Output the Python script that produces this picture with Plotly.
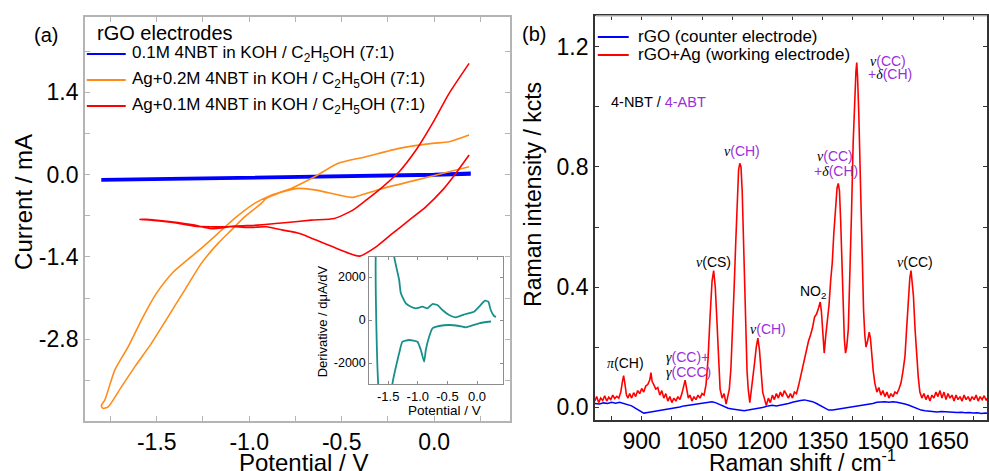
import plotly.graph_objects as go

W, H = 989, 471
FONT = "Liberation Sans, Arial, sans-serif"
SERIF = "Liberation Serif, Times New Roman, serif"
PURPLE = "#9b30d8"

# ---------------- Panel (a): cyclic voltammograms (Potential / V, Current / mA)
cv_blue_v = [-1.80, -1.50, -1.00, -0.50, 0.00, 0.19, 0.19, 0.00, -0.50, -1.00, -1.50, -1.80]
cv_blue_i = [-0.085, -0.072, -0.050, -0.025, 0.005, 0.028, 0.005, -0.012, -0.038, -0.060, -0.080, -0.095]

cv_orange_v = [0.189, 0.081, -0.098, -0.278, -0.368, -0.440, -0.512, -0.638, -0.728, -0.818, -0.908,
               -0.935, -1.025, -1.097, -1.169, -1.259, -1.349, -1.439, -1.529, -1.619, -1.691, -1.763,
               -1.791, -1.800, -1.781, -1.727, -1.655, -1.574, -1.502, -1.412, -1.331, -1.250, -1.169,
               -1.079, -0.971, -0.881, -0.773, -0.647, -0.521, -0.368, -0.189, -0.009, 0.081, 0.189]
cv_orange_i = [0.133, 0.048, -0.094, -0.235, -0.320, -0.388, -0.349, -0.264, -0.235, -0.293, -0.405,
               -0.490, -0.718, -0.944, -1.170, -1.510, -1.964, -2.418, -2.871, -3.269, -3.609, -3.949,
               -3.975, -3.930, -3.835, -3.325, -2.929, -2.418, -2.020, -1.660, -1.440, -1.228, -1.000,
               -0.745, -0.490, -0.349, -0.235, -0.037, 0.190, 0.303, 0.446, 0.531, 0.558, 0.672]

cv_red_v = [0.189, 0.117, 0.045, -0.045, -0.135, -0.225, -0.314, -0.404, -0.458, -0.548, -0.638,
            -0.728, -0.818, -0.908, -0.989, -1.079, -1.205, -1.295, -1.403, -1.529, -1.592,
            -1.560, -1.421, -1.295, -1.205, -1.079, -0.953, -0.809, -0.665, -0.539, -0.440, -0.368,
            -0.278, -0.189, -0.098, -0.009, 0.081, 0.189]
cv_red_i = [0.332, 0.020, -0.264, -0.548, -0.774, -1.000, -1.228, -1.386, -1.340, -1.228, -1.114,
            -1.000, -0.944, -0.888, -0.898, -0.888, -0.888, -0.876, -0.820, -0.774, -0.765,
            -0.760, -0.803, -0.859, -0.918, -0.876, -0.859, -0.820, -0.774, -0.745, -0.604, -0.434,
            -0.207, 0.048, 0.417, 0.871, 1.381, 1.891]

# Inset: derivative dI/dV (µA/V) versus potential
inset_v = [0.236, 0.034, -0.190, -0.303, -0.472, -0.640, -0.753, -0.809, -0.865, -0.893, -0.949,
           -1.006, -1.146, -1.259, -1.315, -1.343, -1.428, -1.483, -1.618, -1.669, -1.702, -1.711,
           -1.685, -1.449, -1.399, -1.315, -1.286, -1.202, -1.117, -1.033, -0.922, -0.838, -0.753,
           -0.669, -0.585, -0.472, -0.359, -0.190, -0.051, 0.034, 0.135, 0.190, 0.231, 0.287, 0.320]
inset_d = [-70, -153, -339, -279, -233, -279, -386, -777, -1395, -1939, -1395,
           -1009, -930, -1009, -1548, -1860, -2943, -4650, -4650, -2976, 0, 2930,
           4650, 4650, 2943, 1860, 1242, 777, 618, 544, 618, 544, 744,
           698, 465, 233, 126, 279, 386, 618, 897, 851, 465, 186, 140]

# ---------------- Panel (b): Raman spectra (shift / cm-1, intensity / kcts)
raman_ag = [(783,0.020),(788,0.035),(793,0.015),(798,0.030),(803,0.022),(808,0.038),(813,0.020),(818,0.033),
    (823,0.025),(828,0.040),(833,0.028),(838,0.036),(843,0.030),(848,0.050),(852,0.085),(855,0.105),(858,0.080),
    (862,0.040),(866,0.030),(870,0.045),(875,0.030),(880,0.048),(885,0.035),(890,0.055),(895,0.045),(900,0.062),
    (905,0.050),(910,0.070),(915,0.075),(920,0.090),(923,0.115),(926,0.085),(930,0.075),(935,0.060),(940,0.065),
    (945,0.040),(950,0.055),(955,0.030),(960,0.045),(965,0.020),(970,0.035),(975,0.015),(980,0.030),(985,0.020),
    (990,0.035),(995,0.025),(1000,0.045),(1004,0.065),(1008,0.090),(1012,0.060),(1016,0.030),(1020,0.040),
    (1025,0.020),(1030,0.035),(1035,0.025),(1040,0.040),(1045,0.030),(1050,0.045),(1055,0.040),(1060,0.075),
    (1065,0.160),(1070,0.300),(1075,0.420),(1079,0.455),(1083,0.400),(1087,0.290),(1091,0.150),(1095,0.060),
    (1100,0.030),(1105,0.045),(1110,0.010),(1114,0.040),(1118,0.060),(1122,0.130),(1126,0.250),(1130,0.400),
    (1134,0.550),(1138,0.690),(1141,0.790),(1144,0.812),(1147,0.800),(1150,0.720),(1153,0.550),(1156,0.380),
    (1159,0.230),(1162,0.120),(1165,0.060),(1169,0.015),(1173,0.060),(1177,0.100),(1181,0.150),(1185,0.200),
    (1189,0.230),(1193,0.190),(1197,0.120),(1201,0.050),(1205,0.030),(1210,0.005),(1215,0.030),(1220,0.015),
    (1225,0.040),(1230,0.025),(1235,0.045),(1240,0.030),(1245,0.050),(1250,0.035),(1255,0.055),(1260,0.040),
    (1265,0.030),(1270,0.045),(1275,0.030),(1280,0.050),(1285,0.045),(1290,0.070),(1295,0.100),(1300,0.130),
    (1305,0.170),(1310,0.190),(1315,0.220),(1320,0.240),(1325,0.265),(1330,0.300),(1335,0.310),(1340,0.330),
    (1344,0.350),(1347,0.320),(1350,0.270),(1354,0.180),(1358,0.240),(1362,0.290),(1366,0.340),(1370,0.420),
    (1374,0.480),(1378,0.580),(1382,0.660),(1386,0.730),(1389,0.745),(1392,0.720),(1395,0.620),(1398,0.480),
    (1401,0.320),(1404,0.230),(1407,0.180),(1410,0.200),(1414,0.260),(1418,0.420),(1422,0.650),(1426,0.880),
    (1430,1.060),(1433,1.120),(1435,1.148),(1437,1.100),(1440,0.980),(1443,0.800),(1446,0.600),(1449,0.430),
    (1452,0.320),(1455,0.240),(1458,0.200),(1462,0.220),(1466,0.250),(1469,0.230),(1472,0.170),(1476,0.120),
    (1480,0.080),(1485,0.050),(1490,0.065),(1495,0.040),(1500,0.055),(1505,0.035),(1510,0.050),(1515,0.030),
    (1520,0.045),(1525,0.035),(1530,0.050),(1535,0.045),(1540,0.060),(1545,0.080),(1550,0.120),(1555,0.170),
    (1559,0.260),(1563,0.360),(1567,0.430),(1570,0.455),(1573,0.420),(1576,0.370),(1580,0.260),(1584,0.170),
    (1588,0.100),(1592,0.050),(1597,0.030),(1602,0.045),(1607,0.025),(1612,0.040),(1617,0.020),(1622,0.040),
    (1627,0.030),(1632,0.050),(1637,0.035),(1642,0.055),(1647,0.030),(1652,0.050),(1657,0.025),(1662,0.045),
    (1667,0.030),(1672,0.040),(1677,0.020),(1682,0.040),(1687,0.025),(1692,0.035),(1697,0.020),(1702,0.040),
    (1707,0.025),(1712,0.035),(1717,0.020),(1722,0.035),(1727,0.025),(1732,0.040),(1737,0.020),(1742,0.035),
    (1747,0.025),(1752,0.038),(1757,0.022),(1760,0.030)]

raman_rgo = [(783,0.012),(795,0.010),(805,0.014),(815,0.012),(825,0.016),(835,0.013),(845,0.016),(855,0.012),
    (865,0.010),(875,0.004),(885,-0.004),(895,-0.012),(905,-0.020),(915,-0.018),(925,-0.016),(935,-0.012),
    (945,-0.010),(955,-0.008),(965,-0.006),(975,-0.004),(985,-0.002),(995,0.000),(1005,0.004),(1015,0.006),
    (1025,0.008),(1035,0.012),(1045,0.014),(1055,0.016),(1065,0.018),(1075,0.018),(1085,0.014),(1095,0.008),
    (1105,0.002),(1115,-0.004),(1125,-0.006),(1135,-0.008),(1145,-0.010),(1155,-0.012),(1165,-0.010),
    (1175,-0.008),(1185,-0.006),(1195,-0.002),(1205,0.000),(1215,0.004),(1225,0.006),(1235,0.004),(1245,0.006),
    (1255,0.008),(1265,0.012),(1275,0.016),(1285,0.020),(1295,0.022),(1305,0.024),(1315,0.022),(1325,0.018),
    (1335,0.012),(1345,0.004),(1355,-0.004),(1365,-0.010),(1375,-0.010),(1385,-0.008),(1395,-0.006),
    (1405,-0.004),(1415,-0.002),(1425,0.000),(1435,0.002),(1445,0.006),(1455,0.008),(1465,0.010),(1475,0.012),
    (1485,0.016),(1495,0.018),(1505,0.018),(1515,0.016),(1525,0.018),(1535,0.016),(1545,0.014),(1555,0.010),
    (1565,0.006),(1575,0.000),(1585,-0.006),(1595,-0.010),(1605,-0.012),(1615,-0.014),(1625,-0.014),
    (1635,-0.016),(1645,-0.015),(1655,-0.016),(1665,-0.017),(1675,-0.016),(1685,-0.018),(1695,-0.017),
    (1705,-0.019),(1715,-0.018),(1725,-0.020),(1735,-0.019),(1745,-0.021),(1755,-0.020),(1760,-0.021)]

# Tick labels (major) ; minor ticks are drawn in between
a_xtickvals = [-1.5, -1.0, -0.5, 0.0]
a_xticktext = ["-1.5", "-1.0", "-0.5", "0.0"]
a_ytickvals = [-2.8, -1.4, 0.0, 1.4]
a_yticktext = ["-2.8", "-1.4", "0.0", "1.4"]
in_xtickvals = [-1.5, -1.0, -0.5, 0.0]
in_xticktext = ["-1.5", "-1.0", "-0.5", "0.0"]
in_ytickvals = [-2000, 0, 2000]
in_yticktext = ["-2000", "0", "2000"]
b_xtickvals = [900, 1050, 1200, 1350, 1500, 1650]
b_xticktext = ["900", "1050", "1200", "1350", "1500", "1650"]
b_ytickvals = [0.0, 0.4, 0.8, 1.2]
b_yticktext = ["0.0", "0.4", "0.8", "1.2"]

def PX(x):
    return x / W

def PY(y):
    return 1 - y / H

fig = go.Figure()
fig.add_trace(go.Scatter(x=cv_blue_v, y=cv_blue_i, mode="lines", line=dict(color="#0000ff", width=3),
                         xaxis="x", yaxis="y"))
fig.add_trace(go.Scatter(x=cv_orange_v, y=cv_orange_i, mode="lines",
                         line=dict(color="#ff8c1a", width=1.6, shape="spline", smoothing=0.6),
                         xaxis="x", yaxis="y"))
fig.add_trace(go.Scatter(x=cv_red_v, y=cv_red_i, mode="lines",
                         line=dict(color="#ff0000", width=1.6, shape="spline", smoothing=0.6),
                         xaxis="x", yaxis="y"))
fig.add_trace(go.Scatter(x=inset_v, y=inset_d, mode="lines",
                         line=dict(color="#17908c", width=1.8, shape="spline", smoothing=0.5),
                         xaxis="x2", yaxis="y2"))
fig.add_trace(go.Scatter(x=[q[0] for q in raman_rgo], y=[q[1] for q in raman_rgo], mode="lines",
                         line=dict(color="#0000ff", width=1.5), xaxis="x3", yaxis="y3"))
fig.add_trace(go.Scatter(x=[q[0] for q in raman_ag], y=[q[1] for q in raman_ag], mode="lines",
                         line=dict(color="#ff0000", width=1.6), xaxis="x3", yaxis="y3"))

grey = "#b4b4b4"
common = dict(showgrid=False, zeroline=False, showline=True, ticks="inside", mirror="ticks", tickmode="array")

def minor(t0, dt, col, ln):
    return dict(tickmode="linear", tick0=t0, dtick=dt, ticks="inside", ticklen=ln, tickcolor=col, showgrid=False)

fig.update_layout(
    width=W, height=H, margin=dict(l=0, r=0, t=0, b=0), showlegend=False,
    paper_bgcolor="white", plot_bgcolor="white", font=dict(family=FONT, color="black"),
    xaxis=dict(domain=[PX(85), PX(511)], range=[-1.889, 0.41], anchor="y",
               tickvals=a_xtickvals, ticktext=a_xticktext, linecolor=grey, linewidth=1.5, tickcolor=grey,
               ticklen=5, tickfont=dict(size=23), minor=minor(0, 0.25, grey, 5), **common),
    yaxis=dict(domain=[PY(421), PY(17)], range=[-4.19, 2.68], anchor="x",
               tickvals=a_ytickvals, ticktext=a_yticktext, linecolor=grey, linewidth=1.5, tickcolor=grey,
               ticklen=5, tickfont=dict(size=23), minor=minor(0, 0.7, grey, 5), **common),
    xaxis2=dict(domain=[PX(370), PX(504)], range=[-1.82, 0.438], anchor="y2",
                tickvals=in_xtickvals, ticktext=in_xticktext, linecolor="#8c8c8c", linewidth=1,
                tickcolor="#8c8c8c", ticklen=3, tickfont=dict(size=13), **common),
    yaxis2=dict(domain=[PY(384), PY(257)], range=[-2976, 2930], anchor="x2",
                tickvals=in_ytickvals, ticktext=in_yticktext, linecolor="#8c8c8c", linewidth=1,
                tickcolor="#8c8c8c", ticklen=3, tickfont=dict(size=12.5), **common),
    xaxis3=dict(domain=[PX(596), 1.0], range=[783.3, 1759], anchor="y3",
                tickvals=b_xtickvals, ticktext=b_xticktext, linecolor="#333333", linewidth=1.5,
                tickcolor="#333333", ticklen=4, tickfont=dict(size=23), minor=minor(825, 150, "#333333", 4),
                **common),
    yaxis3=dict(domain=[PY(420), PY(16)], range=[-0.043, 1.303], anchor="x3",
                tickvals=b_ytickvals, ticktext=b_yticktext, linecolor="#333333", linewidth=1.5,
                tickcolor="#333333", ticklen=4, tickfont=dict(size=23), minor=minor(0.2, 0.4, "#333333", 4),
                **common),
)

ann = []
def text(x, y, t, size, xanchor="center", angle=0, color="black"):
    ann.append(dict(x=PX(x), y=PY(y), xref="paper", yref="paper", text=t, showarrow=False,
                    xanchor=xanchor, yanchor="middle", textangle=angle,
                    font=dict(size=size, color=color, family=FONT)))

# axis titles
text(23, 202, "Current / mA", 24, angle=-90)
text(304, 462, "Potential / V", 24)
text(534, 194, "Raman intensity / kcts", 23, angle=-90)
text(804, 461, "Raman shift / cm<sup>-1</sup>", 23)
text(323, 321, "Derivative / dμA/dV", 13, angle=-90)
text(445, 410, "Potential / V", 13.5)

# panel letters and legends
text(46, 35, "(a)", 20)
text(535, 34, "(b)", 20)
text(95, 33, "rGO electrodes", 20, xanchor="left")
sub = "C<sub>2</sub>H<sub>5</sub>OH"
legend_a = [("#0000ff", "0.1M 4NBT in KOH / " + sub + " (7:1)", 54),
            ("#ff8c1a", "Ag+0.2M 4NBT in KOH / " + sub + " (7:1)", 80),
            ("#ff0000", "Ag+0.1M 4NBT in KOH / " + sub + " (7:1)", 106)]
shapes = []
for col, lab, yy in legend_a:
    shapes.append(dict(type="line", xref="paper", yref="paper", x0=PX(87), x1=PX(126), y0=PY(yy), y1=PY(yy),
                       line=dict(color=col, width=2)))
    text(130, yy, lab, 17, xanchor="left")
legend_b = [("#0000ff", "rGO (counter electrode)", 37), ("#ff0000", "rGO+Ag (working electrode)", 55)]
for col, lab, yy in legend_b:
    shapes.append(dict(type="line", xref="paper", yref="paper", x0=PX(599), x1=PX(630), y0=PY(yy), y1=PY(yy),
                       line=dict(color=col, width=2)))
    text(637, yy, lab, 17, xanchor="left")
# light top edge of panel (b)
shapes.append(dict(type="line", xref="paper", yref="paper", x0=PX(597), x1=1.0, y0=PY(16), y1=PY(16),
                   line=dict(color="#c8c8c8", width=1.5)))

def g(ch):
    return '<span style="font-family:' + SERIF + '"><i>' + ch + '</i></span>'

def p(t):
    return '<span style="color:' + PURPLE + '">' + t + '</span>'

text(610, 102, "4-NBT / " + p("4-ABT"), 14.5, xanchor="left")
text(870, 61, g("ν") + p("(CC)"), 14, xanchor="left")
text(868, 74, p("+") + g("δ") + p("(CH)"), 14, xanchor="left")
text(723, 151, g("ν") + p("(CH)"), 14, xanchor="left")
text(817, 156, g("ν") + p("(CC)"), 14, xanchor="left")
text(814, 171, p("+") + g("δ") + p("(CH)"), 14, xanchor="left")
text(695, 262, g("ν") + "(CS)", 14, xanchor="left")
text(800, 292, "NO<sub>2</sub>", 14, xanchor="left")
text(897, 262, g("ν") + "(CC)", 14, xanchor="left")
text(750, 329, g("ν") + p("(CH)"), 14, xanchor="left")
text(606, 363, g("π") + "(CH)", 14, xanchor="left")
text(665, 357, g("γ") + p("(CC)+"), 14, xanchor="left")
text(665, 372, g("γ") + p("(CCC)"), 14, xanchor="left")

fig.update_layout(annotations=ann, shapes=shapes)
fig.write_html("out.html", config={"displayModeBar": False},
               post_script="document.body.style.margin='0';document.body.style.overflow='hidden';")
